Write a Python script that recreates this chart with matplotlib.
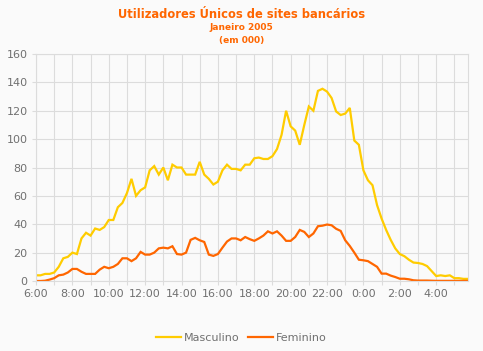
import numpy as np
import matplotlib
matplotlib.use('Agg')
import matplotlib.pyplot as plt

# 15-minute readings from 6:00 to 5:45 (values in thousands)
masculino = [
    4, 4, 5, 5,  6, 10, 16, 17,  20, 19, 30, 34,  32, 37, 36, 38,
    43, 43, 52, 55,  62, 72, 60, 64,  66, 78, 81, 75,  80, 71, 82, 80,
    80, 75, 75, 75,  84, 75, 72, 68,  70, 78, 82, 79,  79, 78, 82, 82,
    86.5, 87, 86, 86,  88, 93, 103, 120,  109, 106, 96, 110,  123, 120, 134, 135.5,
    133.5, 129, 119.5, 117,  118, 122, 99, 96,  78, 71, 67.5, 53.5,  44, 36, 29, 23,
    19, 17.5, 15, 13,  12.7, 12, 10.5, 7,  3.5, 4, 3.5, 4,  2, 2, 1.5, 1.5,
]
feminino = [
    0, 0, 0.2, 1,  2, 4, 4.5, 6,  8.5, 8.5, 6.5, 5,  5, 5, 8, 10,
    9, 10, 12, 16,  16, 14, 16, 20.5,  18.6, 18.6, 20, 23,  23.5, 23, 24.5, 19,
    18.6, 20, 29, 30.4,  28.7, 27.5, 18.6, 17.7,  19, 23.5, 27.8, 30,  30, 28.7, 31, 29.5,
    28.3, 30, 32, 35,  33.5, 35, 32, 28.3,  28.3, 31, 36, 34.6,  31, 33.5, 38.6, 39,
    39.8, 39.3, 36.8, 35.3,  28.7, 24.7, 20, 15,  14.6, 14, 12, 10,  5.2, 5.2, 3.8, 2.8,
    1.6, 1.6, 1.2, 0.5,  0.3, 0.3, 0.3, 0.2,  0.1, 0.1, 0.1, 0.1,  0.1, 0.1, 0.1, 0.1,
]
hours = ['6:00', '', '8:00', '', '10:00', '', '12:00', '', '14:00', '', '16:00', '',
         '18:00', '', '20:00', '', '22:00', '', '0:00', '', '2:00', '', '4:00', '']

bg = '#fafafa'
grid_c = '#dcdcdc'
txt_c = '#707070'

fig = plt.figure(figsize=(4.83, 3.51), dpi=100, facecolor=bg)
ax = fig.add_axes([36/483, 70/351, 432/483, 227/351], facecolor=bg)

x = np.arange(len(masculino))
ax.plot(x, masculino, color='#ffcc00', lw=1.6, label='Masculino', solid_joinstyle='miter')
ax.plot(x, feminino, color='#ff6600', lw=1.6, label='Feminino', solid_joinstyle='miter')

ax.set_xlim(0, len(masculino) - 1)
ax.set_ylim(0, 160)
ax.set_yticks(range(0, 161, 20))
ax.set_xticks(range(0, 96, 4))
ax.set_xticklabels(hours)
ax.grid(True, color=grid_c, lw=0.8)
ax.set_axisbelow(True)
for s in ax.spines.values():
    s.set_color(grid_c)
    s.set_linewidth(0.8)
ax.tick_params(colors=grid_c, length=3, width=0.8, labelcolor=txt_c, labelsize=8)
ax.tick_params(axis='x', pad=3)
ax.tick_params(axis='y', pad=3)

fig.text(0.5, 1 - 15/351, 'Utilizadores Únicos de sites bancários', ha='center', va='center',
         color='#ff6600', fontsize=8.3, fontweight='bold')
fig.text(0.5, 1 - 28/351, 'Janeiro 2005', ha='center', va='center',
         color='#ff6600', fontsize=6.5, fontweight='bold')
fig.text(0.5, 1 - 40/351, '(em 000)', ha='center', va='center',
         color='#ff6600', fontsize=6.5, fontweight='bold')

leg = fig.legend(loc='center', bbox_to_anchor=(0.5, 1 - 338/351), ncol=2, frameon=False,
                 fontsize=8, handlelength=2.2, handletextpad=0.3, columnspacing=0.8)
for t in leg.get_texts():
    t.set_color(txt_c)

fig.savefig('out.png', dpi=100, facecolor=bg)
